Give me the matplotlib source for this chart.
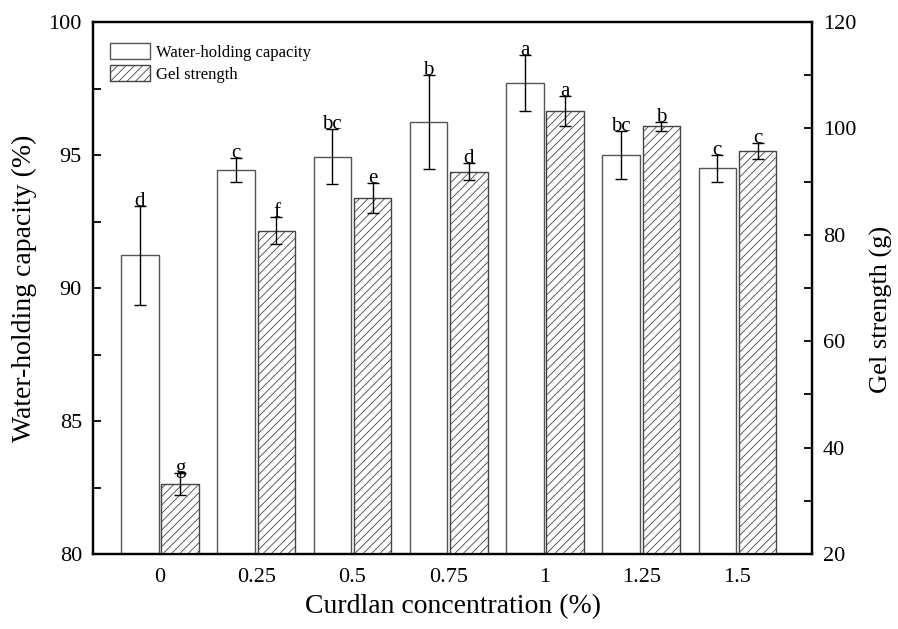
#! /usr/bin/env python3

import numpy as np
import matplotlib
matplotlib.use('Agg')
import matplotlib.pyplot as plt
from matplotlib.ticker import MultipleLocator

# data
concentrations = ['0', '0.25', '0.5', '0.75', '1', '1.25', '1.5']
whc = [91.23, 94.44, 94.94, 96.24, 97.70, 95.00, 94.50]
whc_err = [1.85, 0.46, 1.04, 1.77, 1.05, 0.90, 0.50]
whc_letters = ['d', 'c', 'bc', 'b', 'a', 'bc', 'c']
gel = [33.2, 80.8, 86.9, 91.9, 103.3, 100.4, 95.8]
gel_err = [2.1, 2.5, 2.8, 1.65, 2.85, 0.8, 1.55]
gel_letters = ['g', 'f', 'e', 'd', 'a', 'b', 'c']

plt.rcParams['font.family'] = 'serif'
plt.rcParams['font.serif'] = ['Liberation Serif']
plt.rcParams['hatch.linewidth'] = 0.6

fig = plt.figure(figsize=(8.98, 6.29), dpi=100)
ax = fig.add_axes([0.1036, 0.1192, 0.8006, 0.8458])
ax2 = ax.twinx()

x = np.arange(len(concentrations))
width = 0.39
off = 0.21

ax.bar(x - off, whc, width, color='white', edgecolor='#555555', linewidth=1.0,
	label='Water-holding capacity', zorder=2)
ax.errorbar(x - off, whc, yerr=whc_err, fmt='none', ecolor='black',
	elinewidth=1.0, capsize=4.5, capthick=1.0, zorder=3)
for xi, v, e, t in zip(x - off, whc, whc_err, whc_letters):
	ax.text(xi, v + e, t, ha='center', va='baseline', fontsize=15)

ax2.bar(x + off, gel, width, color='white', edgecolor='#444444', linewidth=1.0,
	hatch='////', label='Gel strength', zorder=2)
ax2.errorbar(x + off, gel, yerr=gel_err, fmt='none', ecolor='black',
	elinewidth=1.0, capsize=4.5, capthick=1.0, zorder=3)
for xi, v, e, t in zip(x + off, gel, gel_err, gel_letters):
	ax2.text(xi, v + e, t, ha='center', va='baseline', fontsize=15)

ax.set_xlim(-0.696, 6.774)
ax.set_ylim(80, 100)
ax2.set_ylim(20, 120)
ax.set_xticks(x, concentrations)

ax.yaxis.set_major_locator(MultipleLocator(5))
ax.yaxis.set_minor_locator(MultipleLocator(2.5))
ax2.yaxis.set_major_locator(MultipleLocator(20))
ax2.yaxis.set_minor_locator(MultipleLocator(10))

ax.tick_params(axis='x', length=0, labelsize=16, pad=10)
ax.tick_params(axis='y', which='both', direction='in', length=6, width=1.3,
	labelsize=16, pad=8, right=False)
ax2.tick_params(axis='y', which='both', direction='in', length=6, width=1.3,
	labelsize=16, pad=8)

for a in (ax, ax2):
	for s in a.spines.values():
		s.set_linewidth(1.6)

ax.set_xlabel('Curdlan concentration (%)', fontsize=20, labelpad=5)
ax.set_ylabel('Water-holding capacity (%)', fontsize=20, labelpad=8)
ax2.set_ylabel('Gel strength (g)', fontsize=19)
ax2.yaxis.set_label_coords(1.08, 0.46)

h1, l1 = ax.get_legend_handles_labels()
h2, l2 = ax2.get_legend_handles_labels()
ax2.legend(h1 + h2, l1 + l2, loc='upper left', bbox_to_anchor=(0.0236, 0.9605),
	frameon=False, fontsize=12, borderpad=0, borderaxespad=0,
	handlelength=2.4, handleheight=1.1, labelspacing=0.25, handletextpad=0.35)

plt.savefig('out.png', dpi=100)
plt.close()
